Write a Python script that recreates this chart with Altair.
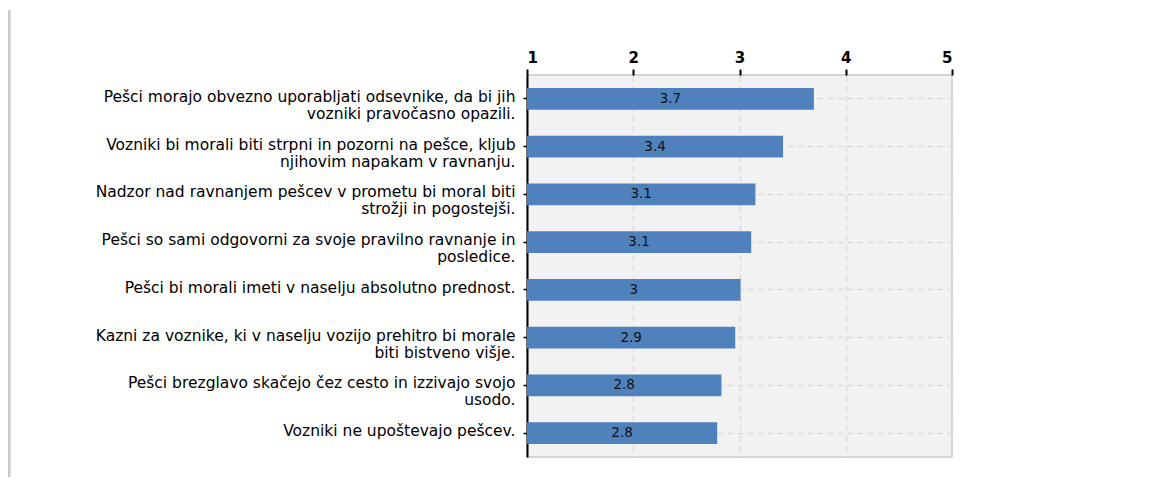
import altair as alt
import pandas as pd

categories = [
    "Pešci morajo obvezno uporabljati odsevnike, da bi jih|vozniki pravočasno opazili.",
    "Vozniki bi morali biti strpni in pozorni na pešce, kljub|njihovim napakam v ravnanju.",
    "Nadzor nad ravnanjem pešcev v prometu bi moral biti|strožji in pogostejši.",
    "Pešci so sami odgovorni za svoje pravilno ravnanje in|posledice.",
    "Pešci bi morali imeti v naselju absolutno prednost.",
    "Kazni za voznike, ki v naselju vozijo prehitro bi morale|biti bistveno višje.",
    "Pešci brezglavo skačejo čez cesto in izzivajo svojo|usodo.",
    "Vozniki ne upoštevajo pešcev.",
]
values = [3.70, 3.41, 3.15, 3.11, 3.01, 2.96, 2.83, 2.79]
value_labels = ["3.7", "3.4", "3.1", "3.1", "3", "2.9", "2.8", "2.8"]
x_ticks = [1, 2, 3, 4, 5]

df = pd.DataFrame({"cat": categories, "val": values, "lab": value_labels})
df["start"] = 1.0
df["mid"] = (df["start"] + df["val"]) / 2

FONT = "DejaVu Sans"

x_scale = alt.Scale(domain=[1, 5], nice=False, zero=False)
y_enc = alt.Y(
    "cat:N",
    sort=categories,
    scale=alt.Scale(paddingInner=0.54, paddingOuter=0.27),
    axis=alt.Axis(
        title=None,
        labelExpr="split(datum.label, '|')",
        labelLimit=600,
        labelFont=FONT,
        labelFontSize=15.5,
        labelColor="#000000",
        labelLineHeight=17,
        labelPadding=8,
        labelOffset=-2,
        tickSize=4,
        tickColor="#000000",
        tickWidth=1.5,
        domainColor="#000000",
        domainWidth=2,
        grid=True,
        gridColor="#dcdcdc",
        gridDash=[6, 4],
        gridWidth=1.5,
    ),
)

bars = alt.Chart(df).mark_bar(color="#4f81bd").encode(
    x=alt.X(
        "start:Q",
        scale=x_scale,
        axis=alt.Axis(
            orient="top",
            values=x_ticks,
            title=None,
            format="d",
            labelFont=FONT,
            labelFontSize=15,
            labelFontWeight="bold",
            labelColor="#000000",
            labelPadding=4,
            tickSize=6,
            tickColor="#000000",
            tickWidth=2,
            domain=False,
            grid=True,
            gridColor="#dcdcdc",
            gridDash=[6, 4],
            gridWidth=1.5,
        ),
    ),
    x2="val:Q",
    y=y_enc,
)

texts = alt.Chart(df).mark_text(
    font=FONT, fontSize=13.5, color="#111111", baseline="middle", align="center"
).encode(
    x=alt.X("mid:Q", scale=x_scale),
    y=alt.Y("cat:N", sort=categories),
    text="lab:N",
)

left_line = alt.Chart(pd.DataFrame({"k": [0]})).mark_rule(
    color="#c8c8c8", strokeWidth=3
).encode(
    x=alt.value(-518),
    y=alt.value(-65),
    y2=alt.value(420),
)

chart = (
    alt.layer(bars, texts, left_line)
    .properties(
        width=425,
        height=382,
        autosize=alt.AutoSizeParams(type="none"),
        padding={"left": 519, "top": 67, "right": 20, "bottom": 20},
        view=alt.ViewConfig(fill="#f2f2f2", stroke="#d4d4d4", strokeWidth=2),
    )
    .configure(background="white")
)

chart.save("out.html", embed_options={"renderer": "svg", "actions": False})
